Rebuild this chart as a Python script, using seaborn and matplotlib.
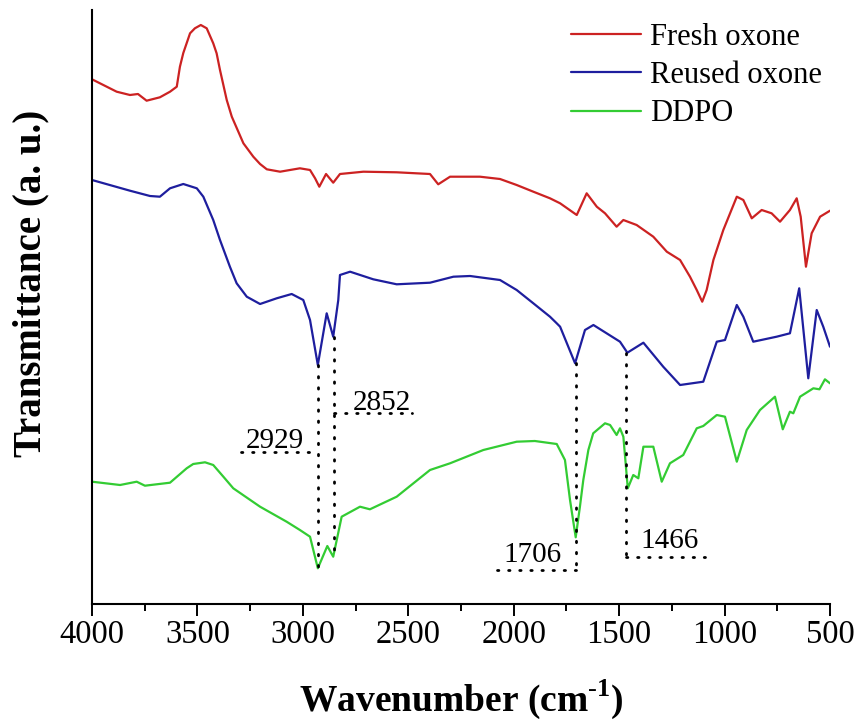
import numpy as np
import pandas as pd
import matplotlib
matplotlib.use("Agg")
import matplotlib.pyplot as plt
from matplotlib.ticker import MultipleLocator
import seaborn as sns

# ---------------- data ----------------
fresh_wn = [4000, 3883, 3820, 3782, 3741, 3678, 3630, 3598, 3583, 3567, 3535, 3512, 3484,
            3456, 3425, 3409, 3393, 3361, 3337, 3282, 3235, 3203, 3171, 3108, 3014, 2966,
            2942, 2922, 2890, 2856, 2824, 2713, 2555, 2397, 2358, 2302, 2160, 2065, 1986,
            1907, 1828, 1780, 1701, 1654, 1606, 1567, 1512, 1480, 1417, 1338, 1274, 1211,
            1164, 1132, 1106, 1085, 1053, 1006, 942, 911, 871, 824, 777, 737, 690, 658, 639,
            614, 587, 547, 500]
fresh_t = [5.247, 5.123, 5.09, 5.10, 5.033, 5.067, 5.123, 5.173, 5.373, 5.51, 5.707, 5.757,
           5.79, 5.757, 5.607, 5.507, 5.34, 5.04, 4.873, 4.607, 4.473, 4.40, 4.347, 4.323,
           4.357, 4.34, 4.257, 4.173, 4.30, 4.213, 4.30, 4.323, 4.317, 4.30, 4.197, 4.273,
           4.273, 4.25, 4.19, 4.123, 4.057, 4.007, 3.89, 4.107, 3.973, 3.907, 3.773, 3.84,
           3.79, 3.673, 3.523, 3.44, 3.273, 3.14, 3.023, 3.14, 3.44, 3.74, 4.073, 4.04,
           3.857, 3.94, 3.907, 3.823, 3.94, 4.057, 3.873, 3.373, 3.707, 3.873, 3.933]

reused_wn = [4000, 3820, 3725, 3678, 3630, 3567, 3503, 3472, 3425, 3393, 3346, 3314, 3266,
             3203, 3124, 3053, 2998, 2966, 2929, 2887, 2856, 2832, 2824, 2776, 2666, 2555,
             2397, 2286, 2207, 2065, 1986, 1907, 1828, 1796, 1780, 1709, 1662, 1622, 1496,
             1461, 1385, 1291, 1211, 1101, 1037, 998, 942, 911, 864, 753, 690, 646, 603, 563,
             532, 500]
reused_t = [4.24, 4.133, 4.08, 4.073, 4.157, 4.20, 4.157, 4.073, 3.84, 3.64, 3.373, 3.207,
            3.073, 3.00, 3.057, 3.10, 3.04, 2.84, 2.39, 2.907, 2.673, 3.04, 3.29, 3.323,
            3.247, 3.197, 3.213, 3.273, 3.28, 3.24, 3.14, 3.007, 2.873, 2.807, 2.773, 2.407,
            2.74, 2.79, 2.623, 2.513, 2.613, 2.373, 2.19, 2.223, 2.623, 2.64, 2.99, 2.873,
            2.623, 2.673, 2.707, 3.157, 2.257, 2.94, 2.773, 2.573]

ddpo_wn = [4000, 3867, 3788, 3749, 3630, 3551, 3520, 3464, 3425, 3377, 3330, 3203, 3077,
           3014, 2966, 2929, 2884, 2856, 2816, 2729, 2682, 2555, 2397, 2302, 2144, 1986,
           1900, 1796, 1757, 1733, 1706, 1686, 1670, 1646, 1623, 1567, 1543, 1512, 1496,
           1480, 1459, 1433, 1409, 1385, 1338, 1298, 1259, 1196, 1132, 1101, 1037, 998, 942,
           895, 832, 761, 724, 690, 674, 642, 579, 550, 524, 500]
ddpo_t = [1.223, 1.19, 1.223, 1.183, 1.213, 1.357, 1.40, 1.417, 1.39, 1.273, 1.157, 0.973,
          0.823, 0.74, 0.673, 0.357, 0.58, 0.473, 0.873, 0.973, 0.947, 1.073, 1.34, 1.407,
          1.54, 1.623, 1.63, 1.60, 1.44, 1.04, 0.667, 0.973, 1.24, 1.54, 1.707, 1.807, 1.79,
          1.69, 1.757, 1.673, 1.157, 1.29, 1.257, 1.573, 1.573, 1.223, 1.407, 1.49, 1.757,
          1.78, 1.89, 1.873, 1.423, 1.74, 1.94, 2.073, 1.747, 1.923, 1.907, 2.073, 2.157,
          2.147, 2.247, 2.207]

series_names = ["Fresh oxone", "Reused oxone", "DDPO"]
series_colors = ["#CC2222", "#1E1E9E", "#33CC33"]

# annotated peaks: wavenumber label, transmittance on reused and on DDPO curve
peak_wn = [2929, 2852, 1706, 1466]
peak_labels = ["2929", "2852", "1706", "1466"]
peak_top = [2.39, 2.673, 2.407, 2.513]
peak_bottom = [0.357, 0.48, 0.31, 0.423]

xtick_values = [4000, 3500, 3000, 2500, 2000, 1500, 1000, 500]

# ---------------- build long-form table ----------------
df = pd.concat([
    pd.DataFrame({"Wavenumber": fresh_wn, "T": fresh_t, "Sample": series_names[0]}),
    pd.DataFrame({"Wavenumber": reused_wn, "T": reused_t, "Sample": series_names[1]}),
    pd.DataFrame({"Wavenumber": ddpo_wn, "T": ddpo_t, "Sample": series_names[2]}),
], ignore_index=True)

sns.set_theme(style="ticks")
plt.rcParams["font.family"] = ["Liberation Serif", "DejaVu Serif"]
plt.rcParams["mathtext.fontset"] = "custom"
plt.rcParams["mathtext.rm"] = "Liberation Serif"
plt.rcParams["mathtext.bf"] = "Liberation Serif:bold"
plt.rcParams["text.color"] = "black"
plt.rcParams["axes.labelcolor"] = "black"
plt.rcParams["xtick.color"] = "black"
plt.rcParams["xtick.labelcolor"] = "black"
plt.rcParams["axes.edgecolor"] = "black"

fig = plt.figure(figsize=(8.58, 7.2), dpi=100)
ax = fig.add_axes([92 / 858, 116 / 720, 738 / 858, 594 / 720])

sns.lineplot(data=df, x="Wavenumber", y="T", hue="Sample", hue_order=series_names,
             palette=dict(zip(series_names, series_colors)), sort=False,
             estimator=None, linewidth=1.6, ax=ax)
for ln in ax.get_lines():
    ln.set_solid_joinstyle("round")

# dotted guide lines and labels
dots = dict(color="black", linewidth=2.0, linestyle=(0, (0.5, 3.5)),
            dash_capstyle="round", solid_capstyle="round")
ann_fs = 21
# 2929
ax.plot([peak_wn[0], peak_wn[0]], [peak_top[0], peak_bottom[0]], **dots)
ax.plot([3293, peak_wn[0]], [1.523, 1.523], **dots)
ax.text(3132, 1.56, peak_labels[0], fontsize=ann_fs, ha="center", va="baseline")
# 2852
ax.plot([peak_wn[1], peak_wn[1]], [peak_top[1], peak_bottom[1]], **dots)
ax.plot([peak_wn[1], 2484], [1.907, 1.907], **dots)
ax.text(2625, 1.94, peak_labels[1], fontsize=ann_fs, ha="center", va="baseline")
# 1706
ax.plot([peak_wn[2], peak_wn[2]], [peak_top[2], peak_bottom[2]], **dots)
ax.plot([2081, peak_wn[2]], [0.34, 0.34], **dots)
ax.text(1911, 0.42, peak_labels[2], fontsize=ann_fs, ha="center", va="baseline")
# 1466
ax.plot([peak_wn[3], peak_wn[3]], [peak_top[3], peak_bottom[3]], **dots)
ax.plot([peak_wn[3], 1093], [0.473, 0.473], **dots)
ax.text(1259, 0.56, peak_labels[3], fontsize=ann_fs, ha="center", va="baseline")

# axes
ax.set_xlim(4000, 500)
ax.set_ylim(0, 5.94)
ax.set_xticks(xtick_values)
ax.set_xticklabels([str(v) for v in xtick_values])
ax.xaxis.set_minor_locator(MultipleLocator(250))
ax.set_yticks([])
ax.tick_params(axis="x", which="major", direction="out", length=8.5, width=1.4,
               labelsize=23.5, pad=3, color="black", labelcolor="black")
ax.tick_params(axis="x", which="minor", direction="out", length=5, width=1.4, color="black")
for s in ["top", "right"]:
    ax.spines[s].set_visible(False)
for s in ["left", "bottom"]:
    ax.spines[s].set_linewidth(1.5)
    ax.spines[s].set_color("black")

ax.set_xlabel(r"Wavenumber (cm$^{\mathbf{\text{-}1}}$)", fontsize=27, fontweight="bold")
ax.xaxis.label.set_va("center")
ax.xaxis.set_label_coords(0.5, -0.160)
ax.set_ylabel("Transmittance (a. u.)", fontsize=28, fontweight="bold")
ax.yaxis.label.set_va("center")
ax.yaxis.set_label_coords(-0.083, 0.54)

handles, labels = ax.get_legend_handles_labels()
leg = ax.legend(handles, labels, loc="upper left", frameon=False, fontsize=22,
                bbox_to_anchor=(571 / 858, 1 - 23 / 720), bbox_transform=fig.transFigure,
                handlelength=2.3, handletextpad=0.28, labelspacing=0.3,
                borderpad=0, borderaxespad=0)
for line in leg.get_lines():
    line.set_linewidth(1.6)
for t in leg.get_texts():
    t.set_color("black")

fig.savefig("out.png", dpi=100)
